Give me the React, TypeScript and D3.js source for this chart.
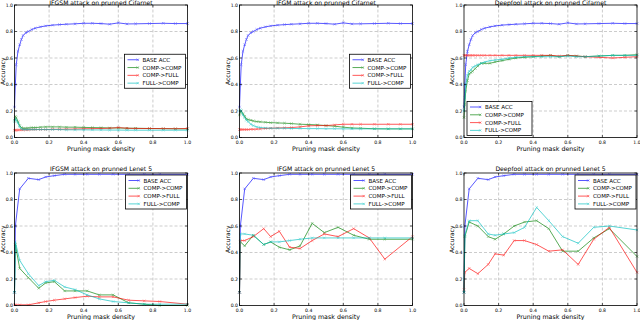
import React from "react";
import * as d3 from "d3";

const cifarX = [0, 0.005, 0.01, 0.02, 0.03, 0.04, 0.05, 0.065, 0.08, 0.1, 0.12, 0.15, 0.18, 0.22, 0.26, 0.3, 0.35, 0.4, 0.45, 0.5, 0.55, 0.6, 0.65, 0.7, 0.78, 0.86, 0.93, 1.0];
const cifarBase = [0.23, 0.4, 0.55, 0.65, 0.7, 0.74, 0.77, 0.79, 0.8, 0.815, 0.825, 0.835, 0.842, 0.848, 0.852, 0.855, 0.858, 0.862, 0.862, 0.86, 0.855, 0.865, 0.857, 0.858, 0.86, 0.862, 0.86, 0.86];

const ifgsmCifarCC = [0.13, 0.16, 0.15, 0.12, 0.09, 0.075, 0.07, 0.07, 0.072, 0.075, 0.075, 0.078, 0.08, 0.08, 0.08, 0.078, 0.078, 0.076, 0.075, 0.074, 0.072, 0.072, 0.07, 0.07, 0.068, 0.067, 0.066, 0.065];
const ifgsmCifarCF = [0.055, 0.055, 0.056, 0.056, 0.057, 0.057, 0.058, 0.058, 0.058, 0.06, 0.06, 0.06, 0.06, 0.062, 0.062, 0.063, 0.064, 0.066, 0.067, 0.068, 0.07, 0.075, 0.07, 0.068, 0.068, 0.067, 0.066, 0.068];
const ifgsmCifarFC = [0.12, 0.14, 0.13, 0.11, 0.08, 0.065, 0.06, 0.06, 0.06, 0.06, 0.06, 0.06, 0.06, 0.06, 0.06, 0.058, 0.058, 0.058, 0.057, 0.057, 0.056, 0.056, 0.055, 0.055, 0.055, 0.055, 0.055, 0.055];

const ifgmCifarCC = [0.17, 0.19, 0.2, 0.18, 0.16, 0.14, 0.135, 0.13, 0.125, 0.12, 0.118, 0.115, 0.112, 0.11, 0.108, 0.105, 0.1, 0.098, 0.095, 0.09, 0.085, 0.078, 0.072, 0.07, 0.066, 0.065, 0.065, 0.065];
const ifgmCifarCF = [0.06, 0.06, 0.06, 0.06, 0.06, 0.06, 0.06, 0.062, 0.062, 0.063, 0.065, 0.068, 0.07, 0.072, 0.073, 0.075, 0.08, 0.088, 0.09, 0.09, 0.095, 0.1, 0.1, 0.1, 0.1, 0.1, 0.1, 0.1];
const ifgmCifarFC = [0.2, 0.21, 0.2, 0.17, 0.15, 0.13, 0.12, 0.1, 0.09, 0.08, 0.075, 0.072, 0.07, 0.07, 0.07, 0.068, 0.068, 0.067, 0.067, 0.066, 0.066, 0.065, 0.065, 0.065, 0.065, 0.065, 0.065, 0.065];

const dfCifarCC = [0.15, 0.25, 0.35, 0.43, 0.48, 0.49, 0.5, 0.52, 0.54, 0.56, 0.56, 0.56, 0.57, 0.58, 0.59, 0.6, 0.605, 0.61, 0.615, 0.62, 0.61, 0.62, 0.615, 0.61, 0.615, 0.62, 0.62, 0.625];
const dfCifarCF = [0.62, 0.62, 0.62, 0.62, 0.62, 0.62, 0.62, 0.62, 0.62, 0.62, 0.62, 0.62, 0.62, 0.62, 0.62, 0.62, 0.62, 0.62, 0.62, 0.62, 0.615, 0.62, 0.615, 0.61, 0.605, 0.6, 0.605, 0.61];
const dfCifarFC = [0.2, 0.3, 0.4, 0.47, 0.5, 0.51, 0.53, 0.54, 0.55, 0.56, 0.57, 0.58, 0.585, 0.59, 0.6, 0.605, 0.61, 0.61, 0.61, 0.61, 0.61, 0.615, 0.61, 0.61, 0.615, 0.62, 0.62, 0.62];

const lenetX = [0, 0.005, 0.03, 0.08, 0.14, 0.18, 0.23, 0.29, 0.35, 0.42, 0.49, 0.57, 0.66, 0.75, 0.84, 1.0];
const lenetBase = [0.1, 0.6, 0.88, 0.96, 0.95, 0.97, 0.98, 0.99, 0.99, 0.99, 0.99, 0.99, 0.99, 0.99, 0.99, 0.99];

const ifgsmLenetCC = [0.1, 0.46, 0.28, 0.21, 0.13, 0.17, 0.18, 0.11, 0.11, 0.11, 0.08, 0.08, 0.02, 0.01, 0.0, 0.0];
const ifgsmLenetCF = [0.005, 0.005, 0.005, 0.005, 0.02, 0.03, 0.04, 0.05, 0.06, 0.07, 0.065, 0.065, 0.04, 0.035, 0.03, 0.01];
const ifgsmLenetFC = [0.1, 0.48, 0.34, 0.24, 0.15, 0.18, 0.19, 0.14, 0.12, 0.08, 0.05, 0.03, 0.02, 0.01, 0.01, 0.01];

const ifgmLenetCC = [0.1, 0.48, 0.45, 0.53, 0.46, 0.48, 0.44, 0.42, 0.45, 0.62, 0.55, 0.59, 0.53, 0.5, 0.5, 0.5];
const ifgmLenetCF = [0.1, 0.49, 0.49, 0.52, 0.58, 0.52, 0.56, 0.44, 0.43, 0.49, 0.54, 0.52, 0.58, 0.51, 0.35, 0.52];
const ifgmLenetFC = [0.1, 0.54, 0.54, 0.53, 0.46, 0.48, 0.48, 0.49, 0.5, 0.51, 0.51, 0.51, 0.51, 0.51, 0.51, 0.51];

const dfLenetCC = [0.1, 0.52, 0.63, 0.6, 0.52, 0.5, 0.54, 0.6, 0.63, 0.64, 0.58, 0.41, 0.41, 0.51, 0.58, 0.37];
const dfLenetCF = [0.12, 0.25, 0.28, 0.24, 0.31, 0.39, 0.38, 0.49, 0.49, 0.46, 0.41, 0.42, 0.31, 0.5, 0.59, 0.25];
const dfLenetFC = [0.1, 0.53, 0.64, 0.64, 0.54, 0.53, 0.54, 0.55, 0.59, 0.74, 0.64, 0.52, 0.47, 0.59, 0.6, 0.57];

const seriesNames = ["BASE ACC", "COMP->COMP", "COMP->FULL", "FULL->COMP"];
const seriesColors = ["#0000ff", "#008000", "#ff0000", "#00bfbf"];
const tickValues = [0, 0.2, 0.4, 0.6, 0.8, 1.0];

const titles = [
  "IFGSM attack on prunned Cifarnet",
  "IFGM attack on prunned Cifarnet",
  "Deepfool attack on prunned Cifarnet",
  "IFGSM attack on prunned Lenet 5",
  "IFGM attack on prunned Lenet 5",
  "Deepfool attack on prunned Lenet 5",
];

const panelsData = [
  { xs: cifarX, ys: [cifarBase, ifgsmCifarCC, ifgsmCifarCF, ifgsmCifarFC], loc: "center right" },
  { xs: cifarX, ys: [cifarBase, ifgmCifarCC, ifgmCifarCF, ifgmCifarFC], loc: "center right" },
  { xs: cifarX, ys: [cifarBase, dfCifarCC, dfCifarCF, dfCifarFC], loc: "lower left" },
  { xs: lenetX, ys: [lenetBase, ifgsmLenetCC, ifgsmLenetCF, ifgsmLenetFC], loc: "upper right" },
  { xs: lenetX, ys: [lenetBase, ifgmLenetCC, ifgmLenetCF, ifgmLenetFC], loc: "upper right" },
  { xs: lenetX, ys: [lenetBase, dfLenetCC, dfLenetCF, dfLenetFC], loc: "upper right" },
];

const colLefts = [14.5, 239.5, 464];
const panelW = 173;
const rowTops = [5, 173];
const panelH = 132.5;
const FONT = "DejaVu Sans, sans-serif";

function Panel({ idx }: { idx: number }) {
  const d = panelsData[idx];
  const left = colLefts[idx % 3];
  const top = rowTops[Math.floor(idx / 3)];
  const x = d3.scaleLinear().domain([0, 1]).range([left, left + panelW]);
  const y = d3.scaleLinear().domain([0, 1]).range([top + panelH, top]);
  const line = d3
    .line<number>()
    .x((_, i) => x(d.xs[i]))
    .y((v) => y(v));

  const legW = idx === 2 ? 65 : 61;
  const legH = 34;
  let lx = 0;
  let ly = 0;
  if (d.loc === "center right") {
    lx = left + panelW - 2 - legW;
    ly = top + panelH / 2 - legH / 2;
  } else if (d.loc === "lower left") {
    lx = left + 3;
    ly = top + panelH - 2 - legH;
  } else {
    lx = left + panelW - 1 - legW;
    ly = top + 2;
  }

  return (
    <g>
      {tickValues.slice(1, 5).map((t) => (
        <line key={"gx" + t} x1={x(t)} x2={x(t)} y1={y(0)} y2={y(1)} stroke="#999" strokeWidth={0.5} strokeDasharray="3,2" />
      ))}
      {tickValues.slice(1, 5).map((t) => (
        <line key={"gy" + t} x1={x(0)} x2={x(1)} y1={y(t)} y2={y(t)} stroke="#999" strokeWidth={0.5} strokeDasharray="3,2" />
      ))}
      {d.ys.map((ys, si) => (
        <g key={"s" + si} opacity={0.65}>
          <path d={line(ys) || ""} fill="none" stroke={seriesColors[si]} strokeWidth={1} />
          {ys.map((v, i) => (
            <path
              key={i}
              d={`M${x(d.xs[i]) - 1.2},${y(v) - 1.2}L${x(d.xs[i]) + 1.2},${y(v) + 1.2}M${x(d.xs[i]) - 1.2},${y(v) + 1.2}L${x(d.xs[i]) + 1.2},${y(v) - 1.2}`}
              stroke={seriesColors[si]}
              strokeWidth={0.6}
            />
          ))}
        </g>
      ))}
      <rect x={x(0)} y={y(1)} width={panelW} height={panelH} fill="none" stroke="#000" strokeWidth={0.8} />
      {tickValues.map((t) => (
        <g key={"t" + t}>
          <line x1={x(t)} x2={x(t)} y1={y(0)} y2={y(0) - 2.5} stroke="#000" strokeWidth={0.6} />
          <line x1={x(t)} x2={x(t)} y1={y(1)} y2={y(1) + 2.5} stroke="#000" strokeWidth={0.6} />
          <line x1={x(0)} x2={x(0) + 2.5} y1={y(t)} y2={y(t)} stroke="#000" strokeWidth={0.6} />
          <line x1={x(1)} x2={x(1) - 2.5} y1={y(t)} y2={y(t)} stroke="#000" strokeWidth={0.6} />
          <text x={x(t)} y={y(0) + 6.3} fontSize={4.6} textAnchor="middle" fontFamily={FONT} fill="#000">
            {t.toFixed(1)}
          </text>
          <text x={x(0) - 1.5} y={y(t) + 1.7} fontSize={4.6} textAnchor="end" fontFamily={FONT} fill="#000">
            {t.toFixed(1)}
          </text>
        </g>
      ))}
      <text x={x(0.5)} y={y(0) + 13.5} fontSize={6.3} textAnchor="middle" fontFamily={FONT} fill="#000">
        Pruning mask density
      </text>
      <text
        transform={`translate(${x(0) - 10},${top + panelH / 2}) rotate(-90)`}
        fontSize={6}
        textAnchor="middle"
        fontFamily={FONT}
        fill="#000"
      >
        Accuracy
      </text>
      <text x={x(0.5)} y={idx < 3 ? 4.5 : top - 2.5} fontSize={6.1} textAnchor="middle" fontFamily={FONT} fill="#000">
        {titles[idx]}
      </text>
      <g>
        <rect x={lx} y={ly} width={legW} height={legH} fill="#fff" stroke="#000" strokeWidth={0.8} />
        {seriesNames.map((n, si) => {
          const ey = ly + 5.5 + si * 7.8;
          return (
            <g key={n}>
              <g opacity={0.65}>
                <line x1={lx + 3} x2={lx + 14} y1={ey} y2={ey} stroke={seriesColors[si]} strokeWidth={1} />
                <path
                  d={`M${lx + 12},${ey - 1.2}L${lx + 14.4},${ey + 1.2}M${lx + 12},${ey + 1.2}L${lx + 14.4},${ey - 1.2}`}
                  stroke={seriesColors[si]}
                  strokeWidth={0.6}
                />
              </g>
              <text x={lx + 18} y={ey + 2} fontSize={5.5} fontFamily={FONT} fill="#000">
                {n}
              </text>
            </g>
          );
        })}
      </g>
    </g>
  );
}

export default function App() {
  return (
    <svg width={640} height={320} style={{ position: "absolute", left: 0, top: 0, background: "#fff" }}>
      <rect x={0} y={0} width={640} height={320} fill="#fff" />
      {[0, 1, 2, 3, 4, 5].map((i) => (
        <Panel key={i} idx={i} />
      ))}
    </svg>
  );
}
